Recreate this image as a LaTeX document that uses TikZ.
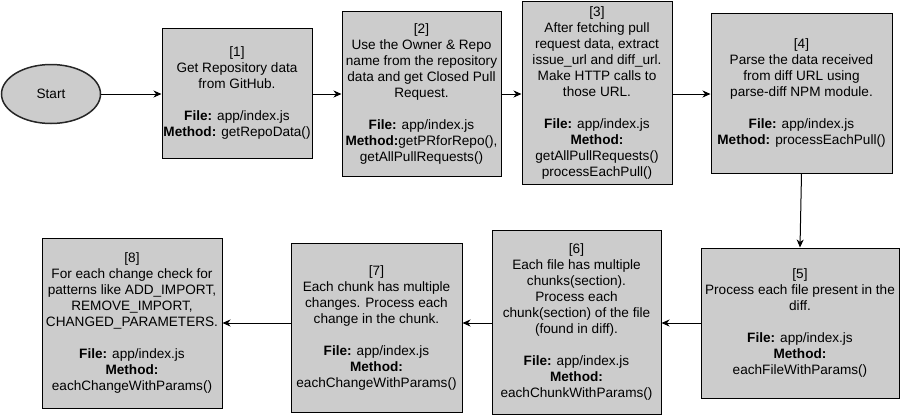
\documentclass[tikz,border=0pt]{standalone}
\usepackage{fontspec}
\setmainfont{Liberation Sans}
\usetikzlibrary{arrows.meta,shapes.geometric}
\definecolor{boxfill}{HTML}{CCCCCC}
\tikzset{
  stepbox/.style={draw=black, fill=boxfill, line width=1pt, rectangle, inner sep=0pt,
    align=center, font=\fontsize{13.6}{16}\selectfont},
  startnode/.style={draw=black!85, fill=boxfill, line width=1.5pt, ellipse, inner sep=0pt,
    font=\fontsize{13.6}{16}\selectfont},
  arr/.style={draw=black, line width=1pt, -{Stealth[length=8pt,width=7pt,inset=2.5pt]}}
}
\begin{document}
\begin{tikzpicture}[x=1pt,y=-1pt]
\useasboundingbox (0,0) rectangle (902,416);
\node[startnode, minimum width=99pt, minimum height=59pt] (start) at (51,94) {Start};
\node[stepbox, minimum width=150pt, minimum height=130pt] (b1) at (237,93)
  {[1]\\Get Repository data\\from GitHub.\\[16pt]\textbf{File:} app/index.js\\\textbf{Method:} getRepoData()};
\node[stepbox, minimum width=159pt, minimum height=165pt] (b2) at (421.5,93.5)
  {[2]\\Use the Owner \& Repo\\name from the repository\\data and get Closed Pull\\Request.\\[16pt]\textbf{File:} app/index.js\\\textbf{Method:}getPRforRepo(),\\getAllPullRequests()};
\node[stepbox, minimum width=150pt, minimum height=183pt] (b3) at (597,92.5)
  {[3]\\After fetching pull\\request data, extract\\issue\_url and diff\_url.\\Make HTTP calls to\\those URL.\\[16pt]\textbf{File:} app/index.js\\\textbf{Method:}\\getAllPullRequests()\\processEachPull()};
\node[stepbox, minimum width=181pt, minimum height=160pt] (b4) at (801.5,93)
  {[4]\\Parse the data received\\from diff URL using\\parse-diff NPM module.\\[16pt]\textbf{File:} app/index.js\\\textbf{Method:} processEachPull()};
\node[stepbox, minimum width=198pt, minimum height=150pt] (b5) at (800,323)
  {[5]\\Process each file present in the\\diff.\\[16pt]\textbf{File:} app/index.js\\\textbf{Method:}\\eachFileWithParams()};
\node[stepbox, minimum width=169pt, minimum height=184pt] (b6) at (576.5,322)
  {[6]\\Each file has multiple\\chunks(section).\\Process each\\chunk(section) of the file\\(found in diff).\\[16pt]\textbf{File:} app/index.js\\\textbf{Method:}\\eachChunkWithParams()};
\node[stepbox, minimum width=171pt, minimum height=169pt] (b7) at (376.5,327.5)
  {[7]\\Each chunk has multiple\\changes. Process each\\change in the chunk.\\[16pt]\textbf{File:} app/index.js\\\textbf{Method:}\\eachChangeWithParams()};
\node[stepbox, minimum width=180pt, minimum height=170pt] (b8) at (132,323)
  {[8]\\For each change check for\\patterns like ADD\_IMPORT,\\REMOVE\_IMPORT,\\CHANGED\_PARAMETERS.\\[16pt]\textbf{File:} app/index.js\\\textbf{Method:}\\eachChangeWithParams()};
\draw[arr] (start.east) -- (start.east -| b1.west);
\draw[arr] (start.east -| b1.east) -- (start.east -| b2.west);
\draw[arr] (start.east -| b2.east) -- (start.east -| b3.west);
\draw[arr] (start.east -| b3.east) -- (start.east -| b4.west);
\draw[arr] (b4.south) -- (b5.north);
\draw[arr] (b5.west) -- (b5.west -| b6.east);
\draw[arr] (b5.west -| b6.west) -- (b5.west -| b7.east);
\draw[arr] (b8.east -| b7.west) -- (b8.east);
\end{tikzpicture}
\end{document}
